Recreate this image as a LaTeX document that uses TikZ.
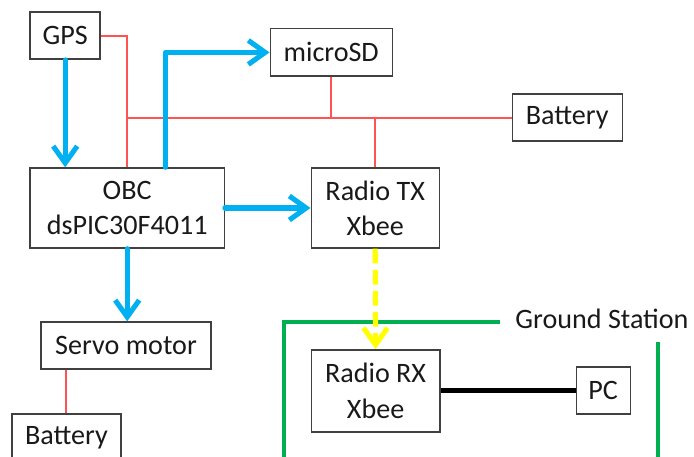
\documentclass[tikz,border=0pt]{standalone}
\usepackage{fontspec}
\setmainfont{Carlito}
\usepackage{xcolor}
\definecolor{wirered}{RGB}{255,82,82}
\definecolor{datablue}{RGB}{0,176,240}
\definecolor{linkyellow}{RGB}{255,255,0}
\definecolor{gsgreen}{RGB}{0,176,80}
\definecolor{boxgray}{RGB}{64,64,64}
\usepackage{tikz}
\usetikzlibrary{arrows.meta, positioning}

\tikzset{
  blk/.style={draw=boxgray, line width=1pt, fill=white, inner sep=0pt, align=center,
    font=\fontsize{20}{25}\selectfont, text=black!90},
  power/.style={draw=wirered, line width=1.4pt},
  data/.style={draw=datablue, line width=3.6pt, line cap=round, line join=round,
    -{Straight Barb[length=0.42cm, width=0.6cm]}},
  radiolink/.style={draw=linkyellow, line width=3.6pt, dash pattern=on 10.5pt off 4.5pt,
    -{Straight Barb[length=0.42cm, width=0.6cm]}},
  serial/.style={draw=black, line width=3pt},
  gsframe/.style={draw=gsgreen, line width=2.4pt}
}

\begin{document}
\begin{tikzpicture}
  \useasboundingbox (0,0) rectangle (17.35,11.4);
  % on-board blocks
  \node[blk, minimum width=1.75cm, minimum height=1.18cm] (gps) at (1.63,10.51) {GPS};
  \node[blk, minimum width=3.05cm, minimum height=1.18cm] (sd) at (8.28,10.09) {microSD};
  \node[blk, minimum width=2.75cm, minimum height=1.18cm] (bat1) at (14.18,8.46) {Battery};
  \node[blk, minimum width=4.85cm, minimum height=2.0cm] (obc) at (3.18,6.2) {OBC\\dsPIC30F4011};
  \node[blk, minimum width=3.2cm, minimum height=2.0cm] (tx) at (9.38,6.2) {Radio TX\\Xbee};
  \node[blk, minimum width=4.25cm, minimum height=1.18cm] (servo) at (3.15,2.76) {Servo motor};
  \node[blk, minimum width=2.73cm, minimum height=1.18cm] (bat2) at (1.66,0.46) {Battery};
  % ground station
  \node[blk, minimum width=3.22cm, minimum height=2.05cm] (rx) at (9.39,1.63) {Radio RX\\Xbee};
  \node[blk, minimum width=1.35cm, minimum height=1.18cm] (pc) at (15.08,1.64) {PC};
  \node[font=\fontsize{20}{25}\selectfont, text=black!90] (gs) at (15.05,3.42) {Ground Station};
  \draw[gsframe] (12.5,3.35) -- (7.1,3.35) -- (7.1,-0.3);
  \draw[gsframe] (16.45,2.85) -- (16.45,-0.3);

  % power wiring
  \draw[power] (gps.east) -| (obc.north);
  \draw[power] (obc.north |- bat1.west) -- (bat1.west);
  \draw[power] (sd.south) -- (sd.south |- bat1.west);
  \draw[power] (tx.north) -- (tx.north |- bat1.west);
  \draw[power] (bat2.north) -- (bat2.north |- servo.south);

  % data paths
  \draw[data] (gps.south) -- (gps.south |- obc.north);
  \draw[data] ([xshift=0.95cm]obc.north) |- (sd.west);
  \draw[data] (obc.east) -- (tx.west);
  \draw[data] (obc.south) -- (obc.south |- servo.north);
  \draw[radiolink] (tx.south) -- (rx.north);
  \draw[serial] (rx.east |- pc.west) -- (pc.west);
\end{tikzpicture}
\end{document}
